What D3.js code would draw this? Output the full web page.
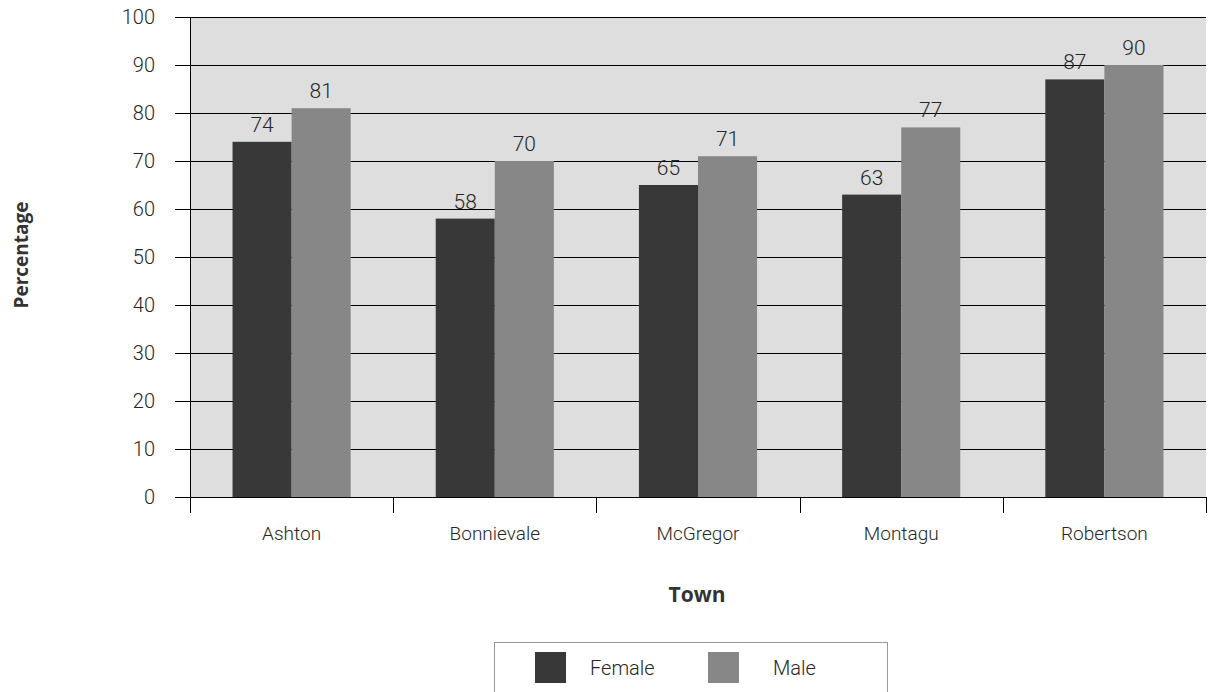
<!DOCTYPE html>
<html>
<head>
<meta charset="utf-8">
<script src="https://cdn.jsdelivr.net/npm/d3@7"></script>
<style>
  html, body { margin: 0; padding: 0; background: #fff; }
  svg { display: block; }
</style>
</head>
<body>
<svg id="chart" width="1212" height="692"></svg>
<script>
// Share of residents by town, split by sex
const towns = ["Ashton", "Bonnievale", "McGregor", "Montagu", "Robertson"];
const seriesNames = ["Female", "Male"];
const female = [74, 58, 65, 63, 87];
const male = [81, 70, 71, 77, 90];
const yTicks = [0, 10, 20, 30, 40, 50, 60, 70, 80, 90, 100];

const colors = { Female: "#383838", Male: "#878787" };
const rows = towns.map((t, i) => ({ town: t, Female: female[i], Male: male[i] }));

const svg = d3.select("#chart");
const plotLeft = 190, plotRight = 1206, plotTop = 17, plotBottom = 497;
const font = "Roboto, 'Liberation Sans', Arial, sans-serif";
const titleFont = "'Open Sans', 'Noto Sans', sans-serif";
const textColor = "#262626";

const x = d3.scaleBand().domain(towns).range([plotLeft, plotRight]).paddingInner(0).paddingOuter(0);
const x1 = d3.scaleBand().domain(seriesNames).range([0, x.bandwidth()]).paddingInner(0).paddingOuter(0.72);
const y = d3.scaleLinear().domain([0, 100]).range([plotBottom, plotTop]);

// plot background
svg.append("rect")
  .attr("x", plotLeft).attr("y", plotTop)
  .attr("width", plotRight - plotLeft).attr("height", plotBottom - plotTop)
  .attr("fill", "#dedede");

// value axis with outer ticks
const yAxis = svg.append("g").attr("transform", `translate(${plotLeft},0)`)
  .call(d3.axisLeft(y).tickValues(yTicks).tickSize(15).tickPadding(20).tickSizeOuter(0));
yAxis.select(".domain").attr("stroke", "#000");
yAxis.selectAll(".tick line").attr("stroke", "#000");
yAxis.selectAll(".tick text")
  .attr("font-family", font).attr("font-weight", 300)
  .attr("font-size", 20).attr("fill", textColor);

// horizontal gridlines
svg.append("g").selectAll("line")
  .data(yTicks)
  .join("line")
  .attr("x1", plotLeft).attr("x2", plotRight)
  .attr("y1", d => Math.round(y(d)) + 0.5).attr("y2", d => Math.round(y(d)) + 0.5)
  .attr("stroke", "#000").attr("stroke-width", 1);

// bars
const groups = svg.append("g").selectAll("g")
  .data(rows)
  .join("g")
  .attr("transform", d => `translate(${x(d.town)},0)`);

groups.selectAll("rect")
  .data(d => seriesNames.map(k => ({ key: k, value: d[k] })))
  .join("rect")
  .attr("x", d => x1(d.key))
  .attr("width", x1.bandwidth())
  .attr("y", d => y(d.value))
  .attr("height", d => y(0) - y(d.value))
  .attr("fill", d => colors[d.key]);

groups.selectAll("text")
  .data(d => seriesNames.map(k => ({ key: k, value: d[k] })))
  .join("text")
  .attr("x", d => x1(d.key) + x1.bandwidth() / 2)
  .attr("y", d => y(d.value) - 10)
  .attr("text-anchor", "middle")
  .attr("font-family", font).attr("font-weight", 300)
  .attr("font-size", 21).attr("fill", textColor)
  .text(d => d.value);

// left axis line drawn on top
svg.append("line")
  .attr("x1", plotLeft + 0.5).attr("x2", plotLeft + 0.5)
  .attr("y1", plotTop).attr("y2", plotBottom + 16)
  .attr("stroke", "#000");

// category axis
const xAxis = svg.append("g").attr("transform", `translate(0,${plotBottom})`)
  .call(d3.axisBottom(x).tickSize(0).tickPadding(30));
xAxis.select(".domain").remove();
xAxis.selectAll(".tick text")
  .attr("font-family", font).attr("font-weight", 300)
  .attr("font-size", 19).attr("fill", textColor);

// category separators
const bounds = towns.map(t => x(t)).concat([plotRight]);
svg.append("g").selectAll("line")
  .data(bounds)
  .join("line")
  .attr("x1", d => Math.round(d) + 0.5).attr("x2", d => Math.round(d) + 0.5)
  .attr("y1", plotBottom).attr("y2", plotBottom + 16)
  .attr("stroke", "#000");
svg.append("line")
  .attr("x1", plotLeft).attr("x2", plotRight)
  .attr("y1", plotBottom + 0.5).attr("y2", plotBottom + 0.5)
  .attr("stroke", "#000");

// axis titles
svg.append("text")
  .attr("transform", "translate(21,255) rotate(-90)")
  .attr("text-anchor", "middle")
  .attr("dy", "0.35em")
  .attr("font-family", titleFont).attr("font-weight", "bold")
  .attr("font-size", 19).attr("fill", "#333")
  .text("Percentage");

svg.append("text")
  .attr("x", 697).attr("y", 602)
  .attr("text-anchor", "middle")
  .attr("font-family", titleFont).attr("font-weight", "bold")
  .attr("font-size", 21).attr("fill", "#333")
  .text("Town");

// legend
const legend = svg.append("g");
legend.append("rect")
  .attr("x", 494.5).attr("y", 642.5)
  .attr("width", 393).attr("height", 60)
  .attr("fill", "#fff").attr("stroke", "#999");

const legendItems = [
  { key: "Female", sx: 535, tx: 590 },
  { key: "Male", sx: 708, tx: 773 }
];
legend.selectAll("rect.sw")
  .data(legendItems)
  .join("rect")
  .attr("class", "sw")
  .attr("x", d => d.sx).attr("y", 652)
  .attr("width", 31).attr("height", 31)
  .attr("fill", d => colors[d.key]);
legend.selectAll("text")
  .data(legendItems)
  .join("text")
  .attr("x", d => d.tx).attr("y", 675)
  .attr("font-family", font).attr("font-weight", 300)
  .attr("font-size", 20).attr("fill", textColor)
  .text(d => d.key);
</script>
</body>
</html>
